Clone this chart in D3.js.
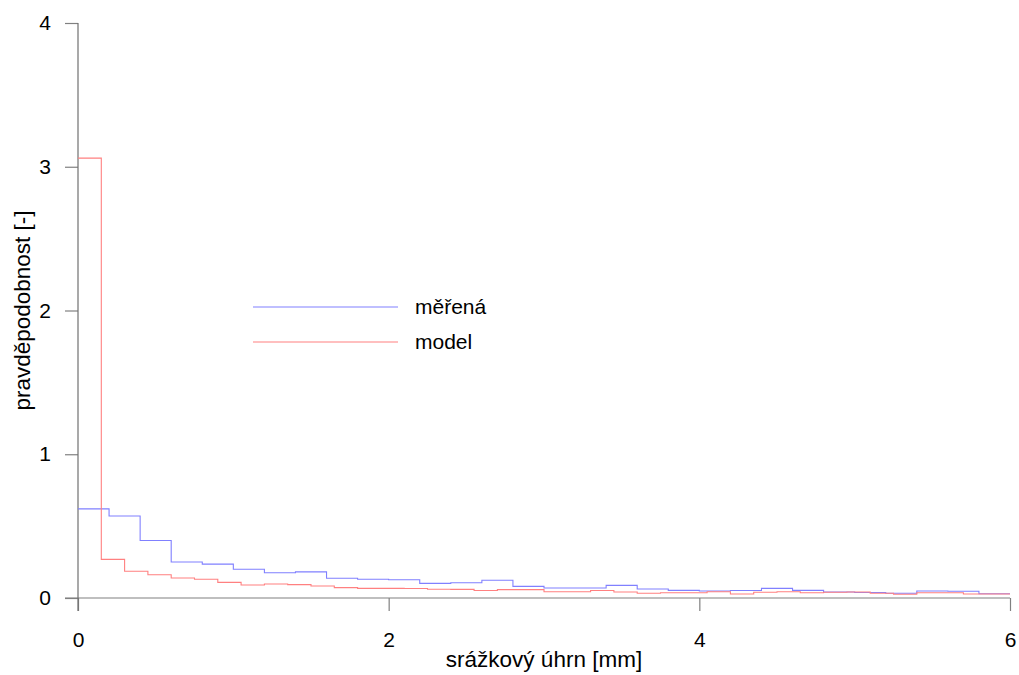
<!DOCTYPE html>
<html>
<head>
<meta charset="utf-8">
<script src="https://cdn.jsdelivr.net/npm/d3@7"></script>
<style>
  html, body { margin: 0; padding: 0; background: #fff; }
  svg { display: block; font-family: "Liberation Sans", Arial, sans-serif; }
</style>
</head>
<body>
<svg id="chart" width="1019" height="675"></svg>
<script>
// ---- data ----
const measuredBinWidth = 0.2;
const measuredValues = [
  0.62, 0.57, 0.40, 0.25, 0.236, 0.20, 0.176, 0.182, 0.137, 0.13,
  0.127, 0.102, 0.106, 0.123, 0.081, 0.07, 0.07, 0.088, 0.063, 0.053,
  0.049, 0.052, 0.067, 0.053, 0.042, 0.038, 0.033, 0.049, 0.047, 0.03
];
const modelBinWidth = 0.15;
const modelValues = [
  3.06, 0.269, 0.186, 0.162, 0.139, 0.13, 0.109, 0.09, 0.097, 0.093,
  0.083, 0.072, 0.067, 0.067, 0.066, 0.061, 0.060, 0.052, 0.058, 0.058,
  0.044, 0.044, 0.052, 0.042, 0.033, 0.037, 0.037, 0.044, 0.028, 0.04,
  0.044, 0.037, 0.04, 0.042, 0.033, 0.026, 0.037, 0.037, 0.028, 0.028
];
const xTicks = [0, 2, 4, 6];
const yTicks = [0, 1, 2, 3, 4];
const seriesNames = ["měřená", "model"];
const xLabel = "srážkový úhrn [mm]";
const yLabel = "pravděpodobnost [-]";

// ---- layout ----
const svg = d3.select("#chart");
const x = d3.scaleLinear().domain([0, 6]).range([78, 1010]);
const y = d3.scaleLinear().domain([0, 4]).range([598, 23]);
const axisColor = "#808080";
const tickFont = 21;
const titleFont = 22.5;

// x axis
const xAxis = svg.append("g").attr("transform", `translate(0,${y(0)})`)
  .call(d3.axisBottom(x).tickValues(xTicks).tickSize(13).tickPadding(21).tickFormat(d3.format("d")));
xAxis.select(".domain").remove();
xAxis.append("line").attr("x1", 65).attr("x2", x(6)).attr("y1", 0).attr("y2", 0)
  .attr("stroke", axisColor).attr("stroke-width", 1.2);
xAxis.selectAll(".tick line").attr("stroke", axisColor).attr("stroke-width", 1.2);
xAxis.selectAll(".tick text").attr("fill", "#000").style("font-size", tickFont + "px")
  .style("font-family", "Liberation Sans, Arial, sans-serif");

// y axis
const yAxis = svg.append("g").attr("transform", `translate(${x(0)},0)`)
  .call(d3.axisLeft(y).tickValues(yTicks).tickSize(13).tickPadding(14).tickFormat(d3.format("d")));
yAxis.select(".domain").remove();
yAxis.append("line").attr("x1", 0).attr("x2", 0).attr("y1", y(4)).attr("y2", 611)
  .attr("stroke", "#707070").attr("stroke-width", 1.2);
yAxis.selectAll(".tick line").attr("stroke", axisColor).attr("stroke-width", 1.2);
yAxis.selectAll(".tick text").attr("fill", "#000").style("font-size", tickFont + "px")
  .style("font-family", "Liberation Sans, Arial, sans-serif");

// series as steps
function stepPoints(values, w) {
  const pts = values.map((v, i) => [i * w, v]);
  pts.push([values.length * w, values[values.length - 1]]);
  return pts;
}
const line = d3.line().x(d => x(d[0])).y(d => y(d[1])).curve(d3.curveStepAfter);
const colors = ["#8080ff", "#ff8080"];

svg.append("path").datum(stepPoints(measuredValues, measuredBinWidth))
  .attr("d", line).attr("fill", "none").attr("stroke", colors[0]).attr("stroke-width", 1.1);
svg.append("path").datum(stepPoints(modelValues, modelBinWidth))
  .attr("d", line).attr("fill", "none").attr("stroke", colors[1]).attr("stroke-width", 1.1);

// legend
const legend = svg.append("g");
const legendY = [307, 342];
seriesNames.forEach((name, i) => {
  legend.append("line").attr("x1", 253).attr("x2", 398)
    .attr("y1", legendY[i]).attr("y2", legendY[i])
    .attr("stroke", colors[i]).attr("stroke-width", 1.1);
  legend.append("text").attr("x", 415).attr("y", legendY[i])
    .attr("dy", "0.35em").style("font-size", tickFont + "px").attr("fill", "#000").text(name);
});

// axis labels
svg.append("text").attr("x", (x(0) + x(6)) / 2).attr("y", 667)
  .attr("text-anchor", "middle").style("font-size", titleFont + "px").attr("fill", "#000").text(xLabel);
svg.append("text").attr("transform", `translate(30,${(y(0) + y(4)) / 2}) rotate(-90)`)
  .attr("text-anchor", "middle").style("font-size", titleFont + "px").attr("fill", "#000").text(yLabel);
</script>
</body>
</html>
